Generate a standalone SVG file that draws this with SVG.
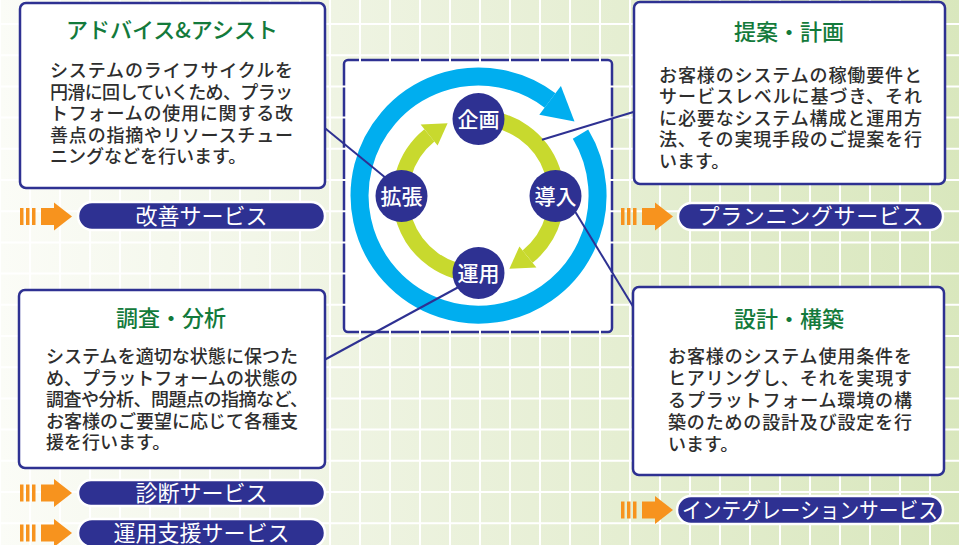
<svg xmlns="http://www.w3.org/2000/svg" width="960" height="545" viewBox="0 0 960 545">
<defs>
<linearGradient id="bg" x1="0" y1="0" x2="1" y2="0">
<stop offset="0" stop-color="#fbfcf7"/>
<stop offset="0.35" stop-color="#eff4e3"/>
<stop offset="1" stop-color="#d9e7bd"/>
</linearGradient>
<g id="arr">
<rect x="-52" y="-8.5" width="3.5" height="17"/>
<rect x="-46" y="-8.5" width="3.5" height="17"/>
<rect x="-40" y="-8.5" width="3.5" height="17"/>
<rect x="-31" y="-8.5" width="13" height="17"/>
<path d="M-18 -14 L0 0 L-18 14 Z"/>
</g>
</defs>
<style>
.box{fill:#fff;stroke:#2e3192;stroke-width:2.5}
.title{font-family:"Noto Sans CJK JP","Noto Sans",sans-serif;font-size:22px;fill:#137a3b;text-anchor:middle;font-weight:500}
.body{font-family:"Noto Sans CJK JP","Noto Sans",sans-serif;font-size:18px;fill:#2e2e2e;font-weight:500}
.pill{fill:#2e3192;stroke:#fff;stroke-width:2.5}
.ptxt{font-family:"Noto Sans CJK JP","Noto Sans",sans-serif;font-size:22px;fill:#fff;text-anchor:middle}
.arrow{fill:#f7931e}
.node circle{fill:#2e3192}
.ntxt{font-family:"Noto Sans CJK JP","Noto Sans",sans-serif;font-size:21px;fill:#fff;text-anchor:middle;font-weight:500}
.conn{stroke:#2e3192;stroke-width:2;fill:none}
</style>
<rect width="960" height="545" fill="url(#bg)"/>
<rect x="344" y="60" width="268" height="272" rx="4" fill="#fff" stroke="#2e3192" stroke-width="2.5"/>
<path stroke="#fff" stroke-width="2" fill="none" d="M0 0V545M30 0V545M60 0V545M90 0V545M120 0V545M150 0V545M180 0V545M210 0V545M240 0V545M270 0V545M300 0V545M330 0V545M360 0V545M390 0V545M420 0V545M450 0V545M480 0V545M510 0V545M540 0V545M570 0V545M600 0V545M630 0V545M660 0V545M690 0V545M720 0V545M750 0V545M780 0V545M810 0V545M840 0V545M870 0V545M900 0V545M930 0V545M960 0V545M0 24H960M0 55.2H960M0 86.4H960M0 117.6H960M0 148.8H960M0 180H960M0 211.2H960M0 242.4H960M0 273.6H960M0 304.8H960M0 336H960M0 367.2H960M0 398.4H960M0 429.6H960M0 460.8H960M0 492H960M0 523.2H960"/>
<g id="cycle">
<path d="M580.5 134.2 A119 119 0 1 1 550.1 100.5" fill="none" stroke="#00aeef" stroke-width="18"/>
<path d="M539.3 114.8 L560.9 86.1 L574.5 121.5 Z" fill="#00aeef"/>
<path d="M478.5 274 A78 78 0 0 1 429.4 135.4" fill="none" stroke="#c8d92e" stroke-width="16"/>
<path d="M437.6 145.5 L420.6 124.5 L447.6 123.3 Z" fill="#c8d92e"/>
<path d="M478.5 118 A78 78 0 0 1 527.6 256.6" fill="none" stroke="#c8d92e" stroke-width="16"/>
<path d="M519.4 246.5 L536.4 267.5 L509.4 268.7 Z" fill="#c8d92e"/>
</g>
<g id="connectors">
<line class="conn" x1="315" y1="120" x2="395" y2="185.5"/>
<line class="conn" x1="542" y1="139.7" x2="640" y2="110"/>
<line class="conn" x1="565" y1="195" x2="640" y2="318"/>
<line class="conn" x1="466" y1="283" x2="315" y2="365"/>
</g>
<g id="node-kikaku" class="node"><circle cx="478.5" cy="119" r="26"/><text class="ntxt" x="478.5" y="126.5">企画</text></g>
<g id="node-dounyu" class="node"><circle cx="555.5" cy="196" r="26"/><text class="ntxt" x="555.5" y="203.5">導入</text></g>
<g id="node-unyou" class="node"><circle cx="478.5" cy="273" r="26"/><text class="ntxt" x="478.5" y="280.5">運用</text></g>
<g id="node-kakuchou" class="node"><circle cx="401.5" cy="196" r="26"/><text class="ntxt" x="401.5" y="203.5">拡張</text></g>
<g id="box-advice">
<rect class="box" x="20" y="3" width="305" height="185" rx="6"/>
<text class="title" x="172" y="38">アドバイス&amp;アシスト</text>
<text class="body" x="50" y="77" textLength="243">システムのライフサイクルを</text>
<text class="body" x="50" y="98.5" textLength="243">円滑に回していくため、プラッ</text>
<text class="body" x="50" y="120" textLength="243">トフォームの使用に関する改</text>
<text class="body" x="50" y="141.5" textLength="243">善点の指摘やリソースチュー</text>
<text class="body" x="50" y="163">ニングなどを行います。</text>
</g>
<g id="box-plan">
<rect class="box" x="634" y="2" width="311" height="182" rx="6"/>
<text class="title" x="789" y="40">提案・計画</text>
<text class="body" x="659" y="81.5" textLength="263">お客様のシステムの稼働要件と</text>
<text class="body" x="659" y="103" textLength="263">サービスレベルに基づき、それ</text>
<text class="body" x="659" y="124.5" textLength="263">に必要なシステム構成と運用方</text>
<text class="body" x="659" y="146" textLength="263">法、その実現手段のご提案を行</text>
<text class="body" x="659" y="167.5">います。</text>
</g>
<g id="box-survey">
<rect class="box" x="19" y="290" width="306" height="178" rx="6"/>
<text class="title" x="171" y="326">調査・分析</text>
<text class="body" x="46" y="363" textLength="252">システムを適切な状態に保つた</text>
<text class="body" x="46" y="384.5" textLength="252">め、プラットフォームの状態の</text>
<text class="body" x="46" y="406" textLength="262">調査や分析、問題点の指摘など、</text>
<text class="body" x="46" y="427.5" textLength="252">お客様のご要望に応じて各種支</text>
<text class="body" x="46" y="449">援を行います。</text>
</g>
<g id="box-design">
<rect class="box" x="633" y="287" width="311" height="188" rx="6"/>
<text class="title" x="789" y="327">設計・構築</text>
<text class="body" x="668" y="363" textLength="244">お客様のシステム使用条件を</text>
<text class="body" x="668" y="385" textLength="244">ヒアリングし、それを実現す</text>
<text class="body" x="668" y="407" textLength="244">るプラットフォーム環境の構</text>
<text class="body" x="668" y="429" textLength="244">築のための設計及び設定を行</text>
<text class="body" x="668" y="451">います。</text>
</g>
<g id="svc-kaizen">
<use href="#arr" class="arrow" x="72" y="216.5"/>
<rect class="pill" x="78" y="202" width="247" height="28" rx="14"/>
<text class="ptxt" x="201.5" y="224">改善サービス</text>
</g>
<g id="svc-planning">
<use href="#arr" class="arrow" x="673" y="216.5"/>
<rect class="pill" x="678" y="203" width="265" height="27" rx="13.5"/>
<text class="ptxt" x="810.5" y="224" textLength="226">プランニングサービス</text>
</g>
<g id="svc-shindan">
<use href="#arr" class="arrow" x="72" y="493"/>
<rect class="pill" x="78" y="480" width="247" height="26" rx="13"/>
<text class="ptxt" x="201.5" y="500.5">診断サービス</text>
</g>
<g id="svc-unyou">
<use href="#arr" class="arrow" x="72" y="533"/>
<rect class="pill" x="78" y="519" width="247" height="28" rx="14"/>
<text class="ptxt" x="201.5" y="540.5">運用支援サービス</text>
</g>
<g id="svc-integration">
<use href="#arr" class="arrow" x="673" y="510"/>
<rect class="pill" x="677" y="496" width="266" height="28" rx="14"/>
<text class="ptxt" x="810" y="518" textLength="256" lengthAdjust="spacingAndGlyphs">インテグレーションサービス</text>
</g>
</svg>
